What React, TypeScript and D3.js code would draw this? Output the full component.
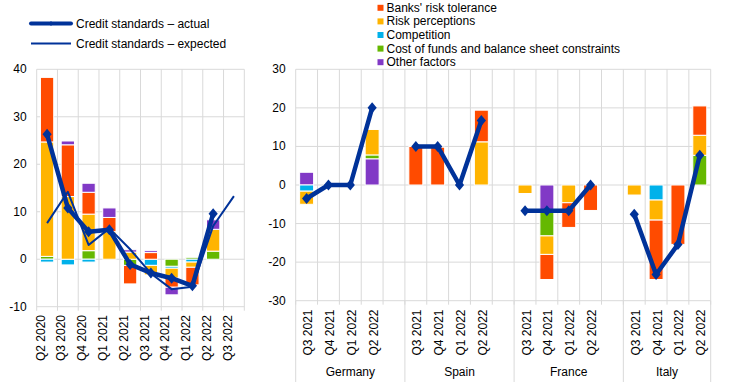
import * as d3 from 'd3'

// ---- left panel: euro area, Q2 2020 - Q3 2022
const leftCats = ['Q2 2020', 'Q3 2020', 'Q4 2020', 'Q1 2021', 'Q2 2021', 'Q3 2021', 'Q4 2021', 'Q1 2022', 'Q2 2022', 'Q3 2022']
const leftTolerance = [13.6, 10.9, 4.6, 3.0, -3.9, 1.4, -1.9, -3.7, 0, 0]
const leftPerceptions = [24.1, 13.2, 7.7, 5.8, 1.5, -2.0, -2.1, -1.1, 4.6, 0]
const leftCompetition = [-0.6, -1.2, -0.6, 0, 0, -1.3, -0.4, -0.6, 0, 0]
const leftCost = [0.6, 0, 1.8, 0, -1.3, 0, -1.5, 0.4, 1.7, 0]
const leftOther = [0, 0.8, 1.9, 2.0, 0.5, 0.4, -1.6, 0, 2.0, 0]
const leftActual = [26.3, 10.8, 5.8, 6.2, -1.1, -2.9, -4.0, -5.6, 9.6, null]
const leftExpected = [7.6, 14.2, 3.0, 6.5, 2.1, -3.0, -6.3, -5.8, 7.0, 13.3]

// ---- right panel: countries
const countries = ['Germany', 'Spain', 'France', 'Italy']
const quarters = ['Q3 2021', 'Q4 2021', 'Q1 2022', 'Q2 2022']
// order: Germany, Spain, France, Italy x quarters
const rightTolerance = [0, 0, 0, 0, 10, 9.8, 0, 8.2, 0, -6.5, -6.4, -6.6, 0, -15.4, -15.4, 7.6]
const rightPerceptions = [-3.4, 0, 0, 6.6, 0, 0, 0, 11.2, -2.2, -4.8, -4.6, 0, -2.6, -5.2, 0, 5.2]
const rightCompetition = [-1.6, 0, 0, 0, 0, 0, 0, 0, 0, 0, 0, 0, 0, -3.9, 0, 0]
const rightCost = [0, 0, 0, 1.0, 0, 0, 0, 0, 0, -6.2, 0, 0, 0, 0, 0, 7.7]
const rightOther = [3.3, 0, 0, 6.8, 0, 0, 0, 0, 0, -7.0, 0, 0, 0, 0, 0, 0]
const rightActual = [-3.5, 0, 0, 20, 10, 10, 0, 16.7, -6.7, -6.7, -6.7, 0, -7.6, -23.2, -15.4, 7.7]

const leftTicks = [-10, 0, 10, 20, 30, 40]
const rightTicks = [-30, -20, -10, 0, 10, 20, 30]

const factors = [
  { key: 'tolerance', label: "Banks' risk tolerance", color: '#FF4B00' },
  { key: 'perceptions', label: 'Risk perceptions', color: '#FFB400' },
  { key: 'competition', label: 'Competition', color: '#00B1EA' },
  { key: 'cost', label: 'Cost of funds and balance sheet constraints', color: '#65B800' },
  { key: 'other', label: 'Other factors', color: '#8139C6' },
]
const colorOf: Record<string, string> = Object.fromEntries(factors.map(f => [f.key, f.color]))

// stacking order from zero outwards differs between the panels
const leftOrder = ['cost', 'competition', 'perceptions', 'tolerance', 'other']
const rightOrder = ['other', 'cost', 'competition', 'perceptions', 'tolerance']

const FONT = 'Arial, "Liberation Sans", sans-serif'
const GRID = '#d9d9d9'
const BLUE = '#003299'
const DIAMOND = 'M0,-5.5L4.6,0L0,5.5L-4.6,0Z'

type Row = { slot: string; [k: string]: number | string }

function Stacks({ rows, order, x, y }: { rows: Row[]; order: string[]; x: d3.ScaleBand<string>; y: d3.ScaleLinear<number, number> }) {
  const series = d3.stack<Row>().keys(order).value((d, k) => d[k] as number).offset(d3.stackOffsetDiverging)(rows)
  const bw = x.bandwidth() * 0.64
  return (
    <g>
      {series.map(s =>
        s.map((seg, i) => {
          if (seg[1] - seg[0] === 0) return null
          const slot = rows[i].slot
          const x0 = (x(slot) as number) + (x.bandwidth() - bw) / 2
          return (
            <rect key={s.key + i} x={x0} width={bw} y={y(Math.max(seg[0], seg[1]))}
              height={Math.abs(y(seg[0]) - y(seg[1]))} fill={colorOf[s.key]} stroke="#fff" strokeWidth={1} />
          )
        })
      )}
    </g>
  )
}

function Grid({ x, y, ticks }: { x: d3.ScaleBand<string>; y: d3.ScaleLinear<number, number>; ticks: number[] }) {
  const [r0, r1] = x.range()
  const [yb, yt] = y.range()
  const bounds = x.domain().map(d => x(d) as number).concat([r1])
  return (
    <g>
      {ticks.map(t => <line key={'h' + t} x1={r0} x2={r1} y1={y(t)} y2={y(t)} stroke={GRID} />)}
      {bounds.map((b, i) => <line key={'v' + i} x1={b} x2={b} y1={yt} y2={yb + 4} stroke={GRID} />)}
      {ticks.map(t => (
        <text key={'t' + t} x={r0 - 10} y={y(t)} textAnchor="end" dominantBaseline="central" fontSize={12}>{t}</text>
      ))}
    </g>
  )
}

export default function App() {
  // left
  const lx = d3.scaleBand<string>().domain(leftCats).range([36.7, 244.3])
  const ly = d3.scaleLinear().domain([-10, 40]).range([306.7, 69.3])
  const leftRows: Row[] = leftCats.map((c, i) => ({
    slot: c, tolerance: leftTolerance[i], perceptions: leftPerceptions[i], competition: leftCompetition[i],
    cost: leftCost[i], other: leftOther[i],
  }))
  const lcx = (i: number) => (lx(leftCats[i]) as number) + lx.bandwidth() / 2
  const lineL = d3.line<number | null>().defined(d => d != null).x((_, i) => lcx(i)).y(d => ly(d as number))

  // right
  const slots: string[] = []
  countries.forEach((c, ci) => {
    quarters.forEach(q => slots.push(c + '|' + q))
    if (ci < countries.length - 1) slots.push('gap' + ci)
  })
  const rx = d3.scaleBand<string>().domain(slots).range([295.7, 710.7])
  const ry = d3.scaleLinear().domain([-30, 30]).range([300.7, 69.3])
  const rightRows: Row[] = []
  countries.forEach((c, ci) => quarters.forEach((q, qi) => {
    const i = ci * 4 + qi
    rightRows.push({
      slot: c + '|' + q, tolerance: rightTolerance[i], perceptions: rightPerceptions[i],
      competition: rightCompetition[i], cost: rightCost[i], other: rightOther[i],
    })
  }))
  const rcx = (s: string) => (rx(s) as number) + rx.bandwidth() / 2
  const groupStart = (ci: number) => rx(countries[ci] + '|' + quarters[0]) as number
  const groupEnd = (ci: number) => ci < countries.length - 1 ? (rx('gap' + ci) as number) + rx.bandwidth() : rx.range()[1]

  return (
    <svg width={744} height={384} style={{ position: 'absolute', left: 0, top: 0 }} fontFamily={FONT} fill="#000">
      <rect width={744} height={384} fill="#fff" />

      {/* left legend */}
      <line x1={31} x2={71} y1={23.5} y2={23.5} stroke={BLUE} strokeWidth={4} strokeLinecap="round" />
      <path d="M0,-2.5L2,0L0,2.5L-2,0Z" transform="translate(51,23.5)" fill={BLUE} />
      <text x={76} y={24} dominantBaseline="central" fontSize={12}>Credit standards – actual</text>
      <line x1={31} x2={71} y1={43.5} y2={43.5} stroke={BLUE} strokeWidth={2} />
      <text x={76} y={44} dominantBaseline="central" fontSize={12}>Credit standards – expected</text>

      {/* right legend */}
      {factors.map((f, i) => (
        <g key={f.key} transform={`translate(377.5,${7.8 + i * 13.6})`}>
          <rect x={0} y={-3} width={6} height={6} fill={f.color} />
          <text x={9} y={0} dominantBaseline="central" fontSize={12}>{f.label}</text>
        </g>
      ))}

      {/* left panel */}
      <Grid x={lx} y={ly} ticks={leftTicks} />
      <Stacks rows={leftRows} order={leftOrder} x={lx} y={ly} />
      <path d={lineL(leftExpected) || ''} fill="none" stroke={BLUE} strokeWidth={2} strokeLinejoin="round" />
      <path d={lineL(leftActual) || ''} fill="none" stroke={BLUE} strokeWidth={4.5} strokeLinejoin="round" />
      {leftActual.map((v, i) => v == null ? null : (
        <path key={'ld' + i} d={DIAMOND} transform={`translate(${lcx(i)},${ly(v)})`} fill={BLUE} />
      ))}
      {leftCats.map(c => (
        <text key={'lt' + c} transform={`translate(${(lx(c) as number) + 4},315) rotate(-90)`}
          textAnchor="end" dominantBaseline="central" fontSize={12}>{c}</text>
      ))}

      {/* right panel */}
      <Grid x={rx} y={ry} ticks={rightTicks} />
      {countries.map((c, ci) => (
        <line key={'div' + c} x1={groupStart(ci)} x2={groupStart(ci)} y1={ry(-30)} y2={382} stroke={GRID} />
      ))}
      <line x1={groupEnd(3)} x2={groupEnd(3)} y1={ry(-30)} y2={382} stroke={GRID} />
      <Stacks rows={rightRows} order={rightOrder} x={rx} y={ry} />
      {countries.map((c, ci) => {
        const vals = rightActual.slice(ci * 4, ci * 4 + 4)
        const ln = d3.line<number>().x((_, i) => rcx(c + '|' + quarters[i])).y(d => ry(d))
        return (
          <g key={'line' + c}>
            <path d={ln(vals) || ''} fill="none" stroke={BLUE} strokeWidth={4.5} strokeLinejoin="round" />
            {vals.map((v, i) => (
              <path key={i} d={DIAMOND} transform={`translate(${rcx(c + '|' + quarters[i])},${ry(v)})`} fill={BLUE} />
            ))}
          </g>
        )
      })}
      {countries.map(c => quarters.map(q => (
        <text key={'rt' + c + q} transform={`translate(${rcx(c + '|' + q) + 1.5},309.5) rotate(-90)`}
          textAnchor="end" dominantBaseline="central" fontSize={12}>{q}</text>
      )))}
      {countries.map((c, ci) => (
        <text key={'cn' + c} x={(groupStart(ci) + groupEnd(ci)) / 2} y={372} textAnchor="middle"
          dominantBaseline="central" fontSize={12}>{c}</text>
      ))}
    </svg>
  )
}
